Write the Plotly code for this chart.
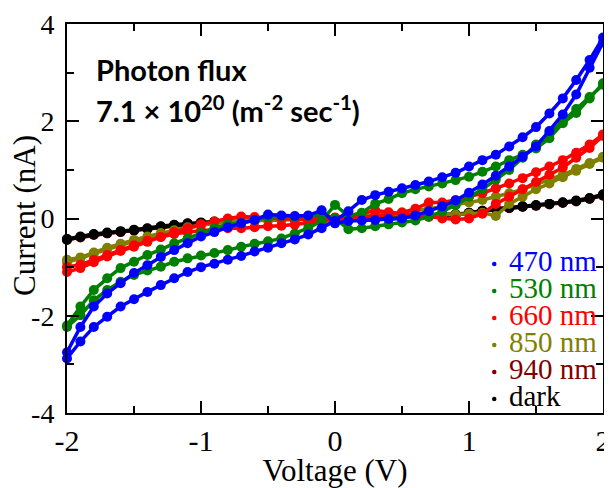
import plotly.graph_objects as go

# Voltage sweep points (V)
V = [-2.0, -1.9, -1.8, -1.7, -1.6, -1.5, -1.4, -1.3, -1.2, -1.1, -1.0,
     -0.9, -0.8, -0.7, -0.6, -0.5, -0.4, -0.3, -0.2, -0.1, 0.0,
     0.1, 0.2, 0.3, 0.4, 0.5, 0.6, 0.7, 0.8, 0.9, 1.0,
     1.1, 1.2, 1.3, 1.4, 1.5, 1.6, 1.7, 1.8, 1.9, 2.0]

# Current (nA), branch A = forward sweep, branch B = reverse sweep (listed by ascending V)
i470_a = [-2.75, -2.23, -1.81, -1.54, -1.33, -1.12, -0.96, -0.79, -0.65, -0.51, -0.37,
          -0.28, -0.18, -0.10, -0.03, 0.08, 0.06, 0.05, 0.06, 0.17, -0.10,
          -0.05, -0.04, -0.03, -0.01, 0.00, 0.06, 0.15, 0.25, 0.37, 0.53,
          0.70, 0.88, 1.07, 1.27, 1.48, 1.80, 2.14, 2.55, 3.10, 3.62]
i470_b = [-2.88, -2.53, -2.23, -2.02, -1.81, -1.66, -1.51, -1.37, -1.23, -1.10, -1.00,
          -0.93, -0.85, -0.77, -0.68, -0.60, -0.51, -0.43, -0.33, -0.20, -0.05,
          0.15, 0.38, 0.48, 0.55, 0.62, 0.69, 0.76, 0.85, 0.94, 1.07,
          1.20, 1.31, 1.48, 1.67, 1.88, 2.16, 2.47, 2.85, 3.26, 3.72]

i530_a = [-2.20, -1.81, -1.47, -1.23, -1.02, -0.89, -0.75, -0.64, -0.51, -0.41, -0.30,
          -0.20, -0.12, -0.10, -0.03, 0.02, 0.05, 0.03, 0.05, 0.10, 0.00,
          -0.22, -0.20, -0.16, -0.12, -0.08, -0.04, 0.04, 0.14, 0.28, 0.45,
          0.60, 0.80, 1.00, 1.25, 1.52, 1.75, 2.00, 2.25, 2.50, 2.75]
i530_b = [-2.23, -1.99, -1.68, -1.47, -1.30, -1.16, -1.07, -0.99, -0.89, -0.82, -0.76,
          -0.71, -0.65, -0.58, -0.52, -0.47, -0.41, -0.31, -0.20, -0.05, 0.28,
          0.05, 0.12, 0.30, 0.40, 0.52, 0.60, 0.66, 0.72, 0.79, 0.86,
          0.96, 1.07, 1.20, 1.31, 1.44, 1.65, 1.96, 2.17, 2.47, 2.78]

i660_a = [-1.10, -1.02, -0.90, -0.78, -0.67, -0.58, -0.48, -0.38, -0.28, -0.20, -0.12,
          -0.06, 0.00, 0.04, 0.03, 0.01, 0.00, -0.02, -0.02, 0.00, 0.02,
          0.05, 0.10, 0.17, 0.13, 0.10, 0.06, 0.03, 0.00, -0.02, 0.00,
          0.10, 0.30, 0.45, 0.60, 0.75, 0.90, 1.05, 1.25, 1.45, 1.70]
i660_b = [-1.00, -0.95, -0.85, -0.75, -0.65, -0.55, -0.46, -0.38, -0.32, -0.28, -0.25,
          -0.22, -0.20, -0.20, -0.18, -0.16, -0.15, -0.13, -0.10, -0.07, -0.03,
          0.00, 0.02, 0.05, 0.08, 0.12, 0.20, 0.33, 0.33, 0.38, 0.45,
          0.52, 0.62, 0.72, 0.83, 0.95, 1.07, 1.20, 1.35, 1.52, 1.73]

i850_a = [-0.90, -0.82, -0.72, -0.63, -0.55, -0.47, -0.40, -0.33, -0.26, -0.20, -0.14,
          -0.10, -0.06, -0.03, -0.01, 0.00, 0.00, 0.00, 0.00, 0.00, 0.00,
          0.02, 0.04, 0.06, 0.07, 0.08, 0.08, 0.08, 0.08, 0.08, 0.10,
          0.12, 0.05, 0.30, 0.45, 0.60, 0.72, 0.85, 0.98, 1.12, 1.25]
i850_b = [-0.85, -0.80, -0.70, -0.60, -0.52, -0.44, -0.37, -0.30, -0.24, -0.18, -0.13,
          -0.09, -0.07, -0.05, -0.04, -0.03, -0.02, -0.01, 0.00, 0.00, 0.01,
          0.03, 0.05, 0.08, 0.10, 0.13, 0.16, 0.20, 0.24, 0.28, 0.33,
          0.38, 0.45, 0.52, 0.60, 0.70, 0.80, 0.90, 1.02, 1.14, 1.27]

i940_a = [-0.43, -0.39, -0.34, -0.31, -0.28, -0.25, -0.22, -0.18, -0.15, -0.12, -0.10,
          -0.08, -0.06, -0.05, -0.04, -0.03, -0.02, -0.02, -0.01, -0.01, 0.00,
          0.00, 0.01, 0.01, 0.02, 0.03, 0.04, 0.05, 0.06, 0.07, 0.11,
          0.15, 0.19, 0.21, 0.24, 0.26, 0.29, 0.32, 0.35, 0.40, 0.47]
i940_b = [-0.42, -0.38, -0.33, -0.30, -0.27, -0.24, -0.21, -0.17, -0.14, -0.11, -0.09,
          -0.07, -0.05, -0.04, -0.03, -0.02, -0.01, -0.01, 0.00, 0.00, 0.00,
          0.01, 0.01, 0.02, 0.03, 0.04, 0.05, 0.06, 0.07, 0.08, 0.12,
          0.16, 0.20, 0.22, 0.25, 0.27, 0.30, 0.33, 0.36, 0.41, 0.48]

idark_a = [-0.44, -0.38, -0.33, -0.30, -0.27, -0.24, -0.21, -0.17, -0.14, -0.11, -0.09,
           -0.07, -0.05, -0.04, -0.03, -0.02, -0.01, -0.01, 0.00, 0.00, 0.00,
           0.01, 0.01, 0.02, 0.03, 0.04, 0.05, 0.06, 0.07, 0.08, 0.12,
           0.16, 0.20, 0.22, 0.25, 0.27, 0.30, 0.33, 0.36, 0.41, 0.48]
idark_b = [-0.42, -0.37, -0.32, -0.29, -0.26, -0.23, -0.20, -0.16, -0.13, -0.10, -0.08,
           -0.06, -0.04, -0.03, -0.02, -0.01, 0.00, 0.00, 0.01, 0.01, 0.01,
           0.02, 0.02, 0.03, 0.04, 0.05, 0.06, 0.07, 0.08, 0.09, 0.11,
           0.15, 0.19, 0.22, 0.24, 0.27, 0.30, 0.33, 0.37, 0.42, 0.50]

series_names = ["940 nm", "dark", "850 nm", "660 nm", "530 nm", "470 nm"]
series_colors = ["#800000", "#000000", "#808000", "#FF0000", "#008000", "#0000FF"]
series_a = [i940_a, idark_a, i850_a, i660_a, i530_a, i470_a]
series_b = [i940_b, idark_b, i850_b, i660_b, i530_b, i470_b]

legend_order = ["470 nm", "530 nm", "660 nm", "850 nm", "940 nm", "dark"]

x_ticks = [-2, -1, 0, 1, 2]
x_ticktext = ["-2", "-1", "0", "1", "2"]
y_ticks = [-4, -2, 0, 2, 4]
y_ticktext = ["-4", "-2", "0", "2", "4"]
Y_RANGE = [-4, 4]

SERIF = "Liberation Serif, Times New Roman, serif"

fig = go.Figure()
for k, (name, col, ia, ib) in enumerate(zip(series_names, series_colors, series_a, series_b)):
    # the top-most series (470 nm) sits on an overlaid y axis with the identical range,
    # which carries the tick labels
    fig.add_trace(go.Scatter(
        x=V + V[::-1], y=ia + ib[::-1], name=name, mode="lines+markers",
        line=dict(color=col, width=3.5), marker=dict(color=col, size=10),
        showlegend=False, cliponaxis=False,
        yaxis="y2" if k == len(series_names) - 1 else "y"))

# plot area in page pixels (page has an 8px body margin around the figure)
L, T, W, H = 67, 24, 536, 389
def px(xp):
    return (xp - L) / W
def py(yp):
    return (T + H - yp) / H

colmap = dict(zip(series_names, series_colors))
y0 = 261
for k, nm in enumerate(legend_order):
    yc = y0 + k * 27
    fig.add_annotation(x=px(507), y=py(yc), xref="paper", yref="paper",
                       text=nm, showarrow=False, xanchor="left", yanchor="middle",
                       font=dict(family=SERIF, size=29, color=colmap[nm]))
    fig.add_shape(type="circle", xref="paper", yref="paper",
                  x0=px(492), x1=px(496.5), y0=py(yc + 3 + 2.25), y1=py(yc + 3 - 2.25),
                  fillcolor=colmap[nm], line=dict(width=0))

fig.add_annotation(x=px(94), y=py(89), xref="paper", yref="paper",
                   text="<b>Photon flux</b>", showarrow=False, xanchor="left", yanchor="bottom",
                   font=dict(family="Lato, sans-serif", size=29, color="black"))
fig.add_annotation(x=px(94), y=py(130), xref="paper", yref="paper",
                   text="<b>7.1 × 10<sup>20</sup> (m<sup>-2</sup> sec<sup>-1</sup>)</b>",
                   showarrow=False, xanchor="left", yanchor="bottom",
                   font=dict(family="Lato, sans-serif", size=29, color="black"))

# y-axis title
fig.add_annotation(x=px(24), y=py(216), xref="paper", yref="paper",
                   text="Current (nA)", textangle=-90, showarrow=False,
                   xanchor="center", yanchor="middle",
                   font=dict(family=SERIF, size=31, color="black"))

axis_common = dict(showline=True, linecolor="black", linewidth=2, mirror="ticks",
                   ticks="inside", ticklen=12, tickwidth=2, tickcolor="black",
                   showgrid=False, zeroline=False, automargin=False)

fig.update_xaxes(range=[-2, 2], tickvals=x_ticks, ticktext=x_ticktext,
                 tickfont=dict(family=SERIF, size=30, color="black"),
                 minor=dict(dtick=0.5, ticks="inside", ticklen=7, tickwidth=2, tickcolor="black"),
                 title=dict(text="Voltage (V)", font=dict(family=SERIF, size=31, color="black")),
                 **axis_common)
fig.update_yaxes(range=Y_RANGE, tickvals=y_ticks, showticklabels=False,
                 minor=dict(dtick=1, ticks="inside", ticklen=7, tickwidth=2, tickcolor="black"),
                 **axis_common)

fig.update_layout(
    yaxis2=dict(overlaying="y", anchor="free", position=0, side="left",
                range=Y_RANGE, tickvals=y_ticks, ticktext=y_ticktext,
                tickfont=dict(family=SERIF, size=28, color="black"),
                showline=False, ticks="outside", ticklen=7, tickcolor="rgba(0,0,0,0)",
                showgrid=False, zeroline=False, automargin=False),
    # figure is 604x480 so that, with the page's 8px body margin, the plot area sits at
    # page x 67..603 and y 24..413
    width=604, height=480, margin=dict(l=59, r=9, t=16, b=75),
    plot_bgcolor="white", paper_bgcolor="white", showlegend=False)

fig.write_html("out.html")
